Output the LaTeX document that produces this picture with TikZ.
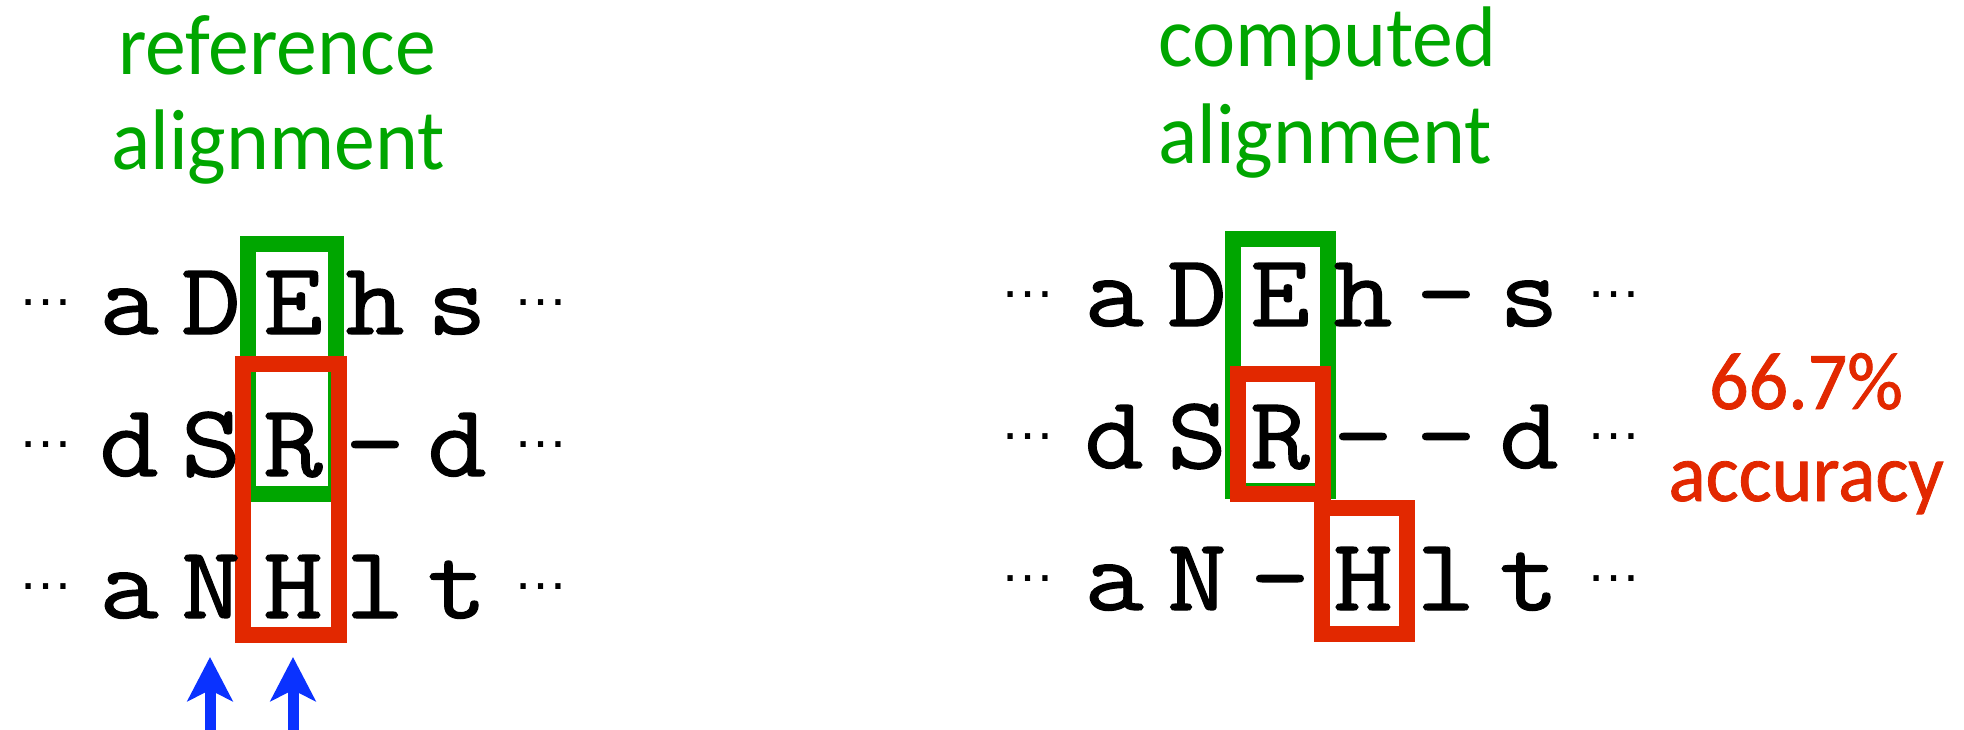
\documentclass[tikz,border=0pt]{standalone}
\usepackage{fontspec}
\usetikzlibrary{arrows.meta}
\newfontfamily\seqfont[FakeBold=1.2,FakeStretch=1.12]{Latin Modern Mono}
\newfontfamily\gillfont[FakeStretch=0.95]{Carlito}
\newfontfamily\accfont[FakeStretch=0.95,FakeBold=1]{Carlito}
\newfontfamily\dotfont{Liberation Sans}
\definecolor{algreen}{RGB}{0,166,0}
\definecolor{alred}{RGB}{226,40,0}
\definecolor{alblue}{RGB}{10,50,255}
\begin{document}
\begin{tikzpicture}[x=1pt,y=-1pt,
  seq/.style={anchor=base,inner sep=0pt,font=\seqfont\fontsize{103}{103}\selectfont},
  dotsym/.style={anchor=base,inner sep=0pt,font=\dotfont\fontsize{55}{55}\selectfont},
  title/.style={anchor=base,inner sep=0pt,text=algreen,font=\gillfont\fontsize{86}{86}\selectfont},
  acc/.style={anchor=base,inner sep=0pt,text=alred,font=\accfont\fontsize{82}{82}\selectfont},
  gbox/.style={draw=algreen,line width=16pt},
  rbox/.style={draw=alred,line width=16pt},
  ptr/.style={draw=alblue,line width=11pt,-{Stealth[length=44pt,width=45pt,inset=11pt]}}]
\useasboundingbox (0,0) rectangle (1964,730);

% titles
\node[title] (t1a) at (277,75) {reference};
\node[title] (t1b) at (278,170) {alignment};
\node[title,anchor=base west] (t2a) at (1158,67) {computed};
\node[title,anchor=base west] (t2b) at (1158,164) {alignment};

% accuracy
\node[acc] (acc1) at (1806,409) {66.7\%};
\node[acc] (acc2) at (1806,501) {accuracy};

% boxes (green below red)
\draw[gbox] (248,244) rectangle (336,494);
\draw[gbox] (1233,239) rectangle (1328,491);
\draw[rbox] (243,364) rectangle (339,635);
\draw[rbox] (1238,374) rectangle (1323,494);
\draw[rbox] (1322,508) rectangle (1407,634);

% left (reference) alignment
\foreach \c [count=\i] in {a,D,E,h,s}
  \node[seq] (L1-\i) at ({129+82*(\i-1)},334) {\c};
\foreach \c [count=\i] in {d,S,R,–,d}
  \node[seq] (L2-\i) at ({129+82*(\i-1)},476) {\c};
\foreach \c [count=\i] in {a,N,H,l,t}
  \node[seq] (L3-\i) at ({129+82*(\i-1)},618) {\c};
\foreach \y [count=\i] in {305,447,589} {
  \node[dotsym] (Ldl-\i) at (46,\y) {…};
  \node[dotsym] (Ldr-\i) at (541,\y) {…};
}

% right (computed) alignment
\foreach \c [count=\i] in {a,D,E,h,–,s}
  \node[seq] (R1-\i) at ({1114+83*(\i-1)},326) {\c};
\foreach \c [count=\i] in {d,S,R,–,–,d}
  \node[seq] (R2-\i) at ({1114+83*(\i-1)},468) {\c};
\foreach \c [count=\i] in {a,N,–,H,l,t}
  \node[seq] (R3-\i) at ({1114+83*(\i-1)},610) {\c};
\foreach \y [count=\i] in {297,439,581} {
  \node[dotsym] (Rdl-\i) at (1028,\y) {…};
  \node[dotsym] (Rdr-\i) at (1614,\y) {…};
}

% blue pointers
\coordinate (p1tail) at (210,735);
\coordinate (p1tip) at (210,657);
\coordinate (p2tail) at (293,735);
\coordinate (p2tip) at (293,657);
\draw[ptr] (p1tail) -- (p1tip);
\draw[ptr] (p2tail) -- (p2tip);
\end{tikzpicture}
\end{document}
